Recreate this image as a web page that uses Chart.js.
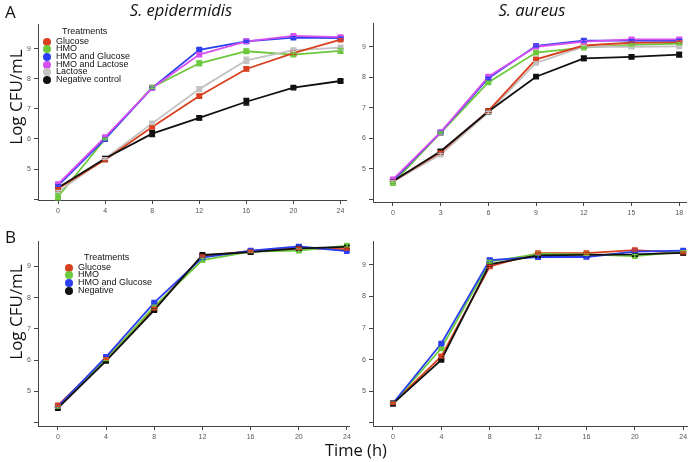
<!DOCTYPE html>
<html>
<head>
<meta charset="utf-8">
<script src="https://cdn.jsdelivr.net/npm/chart.js@4"></script>
<style>
  body { margin: 0; background: #fff; width: 691px; height: 462px; position: relative; overflow: hidden; font-family: "Liberation Sans", Arial, sans-serif; }
  .box { position: absolute; }
  .big { position: absolute; font-family: "Open Sans", sans-serif; color: #111; white-space: nowrap; }
  .ylab { transform: translate(-50%, -50%) rotate(-90deg); font-size: 17px; }
  .leg { position: absolute; font-size: 9px; line-height: 7.7px; color: #111; }
  .leg div { position: relative; padding-left: 13px; height: 7.7px; }
  .leg span { position: absolute; left: -0.5px; top: 0px; width: 8px; height: 8px; border-radius: 50%; }
</style>
</head>
<body>
<div class="box" id="boxA1"><canvas id="chartA1"></canvas></div>
<div class="box" id="boxA2"><canvas id="chartA2"></canvas></div>
<div class="box" id="boxB1"><canvas id="chartB1"></canvas></div>
<div class="box" id="boxB2"><canvas id="chartB2"></canvas></div>

<div class="big" style="left:5px;top:0px;font-size:17px;">A</div>
<div class="big" style="left:5px;top:225px;font-size:17px;">B</div>
<div class="big" style="left:181px;top:-2px;font-size:16.5px;font-style:italic;transform:translateX(-50%);">S. epidermidis</div>
<div class="big" style="left:532px;top:-2px;font-size:16.5px;font-style:italic;transform:translateX(-50%);">S. aureus</div>
<div class="big ylab" style="left:15px;top:97px;">Log CFU/mL</div>
<div class="big ylab" style="left:15px;top:312px;">Log CFU/mL</div>
<div class="big" style="left:356px;top:438px;font-size:16.5px;transform:translateX(-50%);">Time (h)</div>

<div class="leg" id="legA" style="left:43px;top:28px;"></div>
<div class="leg" id="legB" style="left:65px;top:254px;"></div>

<script>
// colours used for each treatment
const colors = {
    'Glucose': '#d8401f',
    'HMO': '#6cc83c',
    'HMO and Glucose': '#2b3ef0',
    'HMO and Lactose': '#d650f0',
    'Lactose': '#c2c2c2',
    'Negative control': '#111111',
    'Negative': '#111111'
};

// Panel A, S. epidermidis
const epiHours = [0, 4, 8, 12, 16, 20, 24];
const epiGlucose = [4.35, 5.31, 6.40, 7.43, 8.33, 8.86, 9.31];
const epiHMO = [4.08, 6.00, 7.72, 8.52, 8.92, 8.81, 8.93];
const epiHMOGlucose = [4.45, 6.00, 7.70, 8.97, 9.25, 9.37, 9.36];
const epiHMOLactose = [4.50, 6.06, 7.70, 8.81, 9.25, 9.43, 9.39];
const epiLactose = [4.24, 5.35, 6.52, 7.66, 8.62, 8.96, 9.04];
const epiNegative = [4.38, 5.35, 6.18, 6.70, 7.24, 7.71, 7.93];
const epiGlucoseErr = [0.03, 0.04, 0.05, 0.05, 0.05, 0.04, 0.03];
const epiHMOErr = [0.10, 0.03, 0.04, 0.08, 0.06, 0.05, 0.08];
const epiHMOGlucoseErr = [0.03, 0.04, 0.03, 0.04, 0.03, 0.03, 0.03];
const epiHMOLactoseErr = [0.04, 0.04, 0.06, 0.06, 0.06, 0.03, 0.04];
const epiLactoseErr = [0.05, 0.03, 0.04, 0.08, 0.10, 0.05, 0.07];
const epiNegativeErr = [0.04, 0.05, 0.10, 0.06, 0.11, 0.04, 0.04];

// Panel A, S. aureus
const aurHours = [0, 3, 6, 9, 12, 15, 18];
const aurGlucose = [4.60, 5.55, 6.90, 8.59, 9.04, 9.13, 9.15];
const aurHMO = [4.54, 6.18, 7.83, 8.81, 8.97, 9.06, 9.10];
const aurHMOGlucose = [4.62, 6.20, 7.97, 9.03, 9.20, 9.20, 9.20];
const aurHMOLactose = [4.66, 6.20, 8.02, 9.00, 9.17, 9.24, 9.24];
const aurLactose = [4.58, 5.47, 6.85, 8.47, 9.00, 9.00, 9.01];
const aurNegative = [4.60, 5.58, 6.88, 8.02, 8.62, 8.67, 8.74];
const aurGlucoseErr = [0.03, 0.03, 0.04, 0.04, 0.03, 0.03, 0.03];
const aurHMOErr = [0.03, 0.03, 0.04, 0.03, 0.03, 0.03, 0.03];
const aurHMOGlucoseErr = [0.03, 0.03, 0.03, 0.03, 0.04, 0.03, 0.04];
const aurHMOLactoseErr = [0.03, 0.03, 0.04, 0.04, 0.03, 0.04, 0.04];
const aurLactoseErr = [0.03, 0.04, 0.04, 0.04, 0.05, 0.05, 0.04];
const aurNegativeErr = [0.03, 0.05, 0.06, 0.03, 0.07, 0.06, 0.07];

// Panel B, left
const b1Hours = [0, 4, 8, 12, 16, 20, 24];
const b1Glucose = [4.56, 6.05, 7.65, 9.33, 9.48, 9.57, 9.55];
const b1HMO = [4.50, 6.02, 7.72, 9.20, 9.47, 9.50, 9.66];
const b1HMOGlucose = [4.52, 6.11, 7.84, 9.28, 9.50, 9.63, 9.48];
const b1Negative = [4.47, 5.98, 7.60, 9.36, 9.45, 9.57, 9.62];
const b1GlucoseErr = [0.03, 0.03, 0.04, 0.03, 0.03, 0.04, 0.03];
const b1HMOErr = [0.03, 0.03, 0.04, 0.06, 0.03, 0.05, 0.05];
const b1HMOGlucoseErr = [0.03, 0.03, 0.03, 0.04, 0.03, 0.06, 0.03];
const b1NegativeErr = [0.03, 0.03, 0.03, 0.03, 0.04, 0.06, 0.06];

// Panel B, right
const b2Hours = [0, 4, 8, 12, 16, 20, 24];
const b2Glucose = [4.62, 6.10, 8.95, 9.37, 9.37, 9.47, 9.38];
const b2HMO = [4.62, 6.36, 9.10, 9.35, 9.33, 9.28, 9.42];
const b2HMOGlucose = [4.62, 6.51, 9.15, 9.25, 9.25, 9.42, 9.45];
const b2Negative = [4.61, 5.99, 9.02, 9.30, 9.32, 9.33, 9.38];
const b2GlucoseErr = [0.03, 0.04, 0.04, 0.03, 0.03, 0.03, 0.03];
const b2HMOErr = [0.03, 0.03, 0.04, 0.03, 0.03, 0.05, 0.03];
const b2HMOGlucoseErr = [0.03, 0.03, 0.05, 0.07, 0.03, 0.03, 0.03];
const b2NegativeErr = [0.03, 0.03, 0.04, 0.06, 0.04, 0.05, 0.03];

const yTicks = [4, 5, 6, 7, 8, 9];
const legendA = ['Glucose', 'HMO', 'HMO and Glucose', 'HMO and Lactose', 'Lactose', 'Negative control'];
const legendB = ['Glucose', 'HMO', 'HMO and Glucose', 'Negative'];

// draws the little error bars with caps
const errorBars = {
    id: 'errorBars',
    afterDatasetsDraw: function(chart) {
        var ctx = chart.ctx;
        var xs = chart.scales.x, ys = chart.scales.y;
        chart.data.datasets.forEach(function(ds) {
            ctx.save();
            ctx.strokeStyle = ds.borderColor;
            ctx.lineWidth = 1.4;
            ds.data.forEach(function(p, j) {
                var px = xs.getPixelForValue(p.x);
                var top = ys.getPixelForValue(p.y + ds.err[j]);
                var bot = ys.getPixelForValue(p.y - ds.err[j]);
                ctx.beginPath();
                ctx.moveTo(px, top); ctx.lineTo(px, bot);
                ctx.moveTo(px - 3, top); ctx.lineTo(px + 3, top);
                ctx.moveTo(px - 3, bot); ctx.lineTo(px + 3, bot);
                ctx.stroke();
            });
            ctx.restore();
        });
    }
};

function series(label, hours, values, err) {
    return {
        label: label,
        data: hours.map(function(h, i) { return {x: h, y: values[i]}; }),
        err: err,
        borderColor: colors[label],
        backgroundColor: colors[label],
        borderWidth: 1.8,
        pointStyle: 'rect',
        pointRadius: 2.8,
        pointHoverRadius: 2.8,
        tension: 0
    };
}

const axisColor = '#444';
const tickFont = {family: 'Liberation Sans', size: 7};

function makePanel(id, area, hours, xMin, xMax, yMin, yMax, datasets) {
    var box = document.getElementById('box' + id);
    box.style.left = (area.l - 28) + 'px';
    box.style.top = (area.t - 4) + 'px';
    box.style.width = (area.r - area.l + 28 + 4) + 'px';
    box.style.height = (area.b - area.t + 4 + 18) + 'px';
    return new Chart(document.getElementById('chart' + id).getContext('2d'), {
        type: 'line',
        data: {datasets: datasets},
        options: {
            responsive: true,
            maintainAspectRatio: false,
            animation: false,
            layout: {padding: {top: 4, right: 4, left: 0, bottom: 0}},
            plugins: {legend: {display: false}, tooltip: {enabled: false}},
            scales: {
                x: {
                    type: 'linear',
                    min: xMin,
                    max: xMax,
                    afterBuildTicks: function(scale) { scale.ticks = hours.map(function(v) { return {value: v}; }); },
                    afterFit: function(scale) { scale.height = 18; },
                    grid: {display: true, drawOnChartArea: false, drawTicks: true, tickLength: 4, color: axisColor},
                    border: {display: true, color: axisColor, width: 1},
                    ticks: {color: '#555', font: tickFont, padding: 3, maxRotation: 0, autoSkip: false}
                },
                y: {
                    min: yMin,
                    max: yMax,
                    afterBuildTicks: function(scale) { scale.ticks = yTicks.map(function(v) { return {value: v}; }); },
                    afterFit: function(scale) { scale.width = 28; },
                    grid: {display: true, drawOnChartArea: false, drawTicks: true, tickLength: 4, color: axisColor},
                    border: {display: true, color: axisColor, width: 1},
                    ticks: {
                        color: '#555', font: tickFont, padding: 3,
                        callback: function(v) { return v === 4 ? '' : v; }
                    }
                }
            }
        },
        plugins: [errorBars]
    });
}

makePanel('A1', {l: 38, r: 347, t: 21, b: 200}, epiHours, -1.7, 24.5, 3.97, 9.82, [
    series('Negative control', epiHours, epiNegative, epiNegativeErr),
    series('HMO and Lactose', epiHours, epiHMOLactose, epiHMOLactoseErr),
    series('HMO and Glucose', epiHours, epiHMOGlucose, epiHMOGlucoseErr),
    series('Glucose', epiHours, epiGlucose, epiGlucoseErr),
    series('Lactose', epiHours, epiLactose, epiLactoseErr),
    series('HMO', epiHours, epiHMO, epiHMOErr)
]);

makePanel('A2', {l: 373, r: 687, t: 20, b: 202}, aurHours, -1.25, 18.45, 3.92, 9.77, [
    series('Negative control', aurHours, aurNegative, aurNegativeErr),
    series('HMO and Lactose', aurHours, aurHMOLactose, aurHMOLactoseErr),
    series('HMO and Glucose', aurHours, aurHMOGlucose, aurHMOGlucoseErr),
    series('Glucose', aurHours, aurGlucose, aurGlucoseErr),
    series('Lactose', aurHours, aurLactose, aurLactoseErr),
    series('HMO', aurHours, aurHMO, aurHMOErr)
]);

makePanel('B1', {l: 38, r: 350, t: 238, b: 426}, b1Hours, -1.65, 24.2, 3.9, 9.8, [
    series('Negative', b1Hours, b1Negative, b1NegativeErr),
    series('HMO and Glucose', b1Hours, b1HMOGlucose, b1HMOGlucoseErr),
    series('HMO', b1Hours, b1HMO, b1HMOErr),
    series('Glucose', b1Hours, b1Glucose, b1GlucoseErr)
]);

makePanel('B2', {l: 373, r: 688, t: 238, b: 426}, b2Hours, -1.65, 24.35, 3.9, 9.75, [
    series('Negative', b2Hours, b2Negative, b2NegativeErr),
    series('HMO and Glucose', b2Hours, b2HMOGlucose, b2HMOGlucoseErr),
    series('HMO', b2Hours, b2HMO, b2HMOErr),
    series('Glucose', b2Hours, b2Glucose, b2GlucoseErr)
]);

// legends as plain text blocks
function buildLegend(id, names) {
    var el = document.getElementById(id);
    var html = '<div style="padding-left:19px;margin-bottom:2px;">Treatments</div>';
    names.forEach(function(n) {
        html += '<div><span style="background:' + colors[n] + '"></span>' + n + '</div>';
    });
    el.innerHTML = html;
}
buildLegend('legA', legendA);
buildLegend('legB', legendB);
</script>
</body>
</html>
